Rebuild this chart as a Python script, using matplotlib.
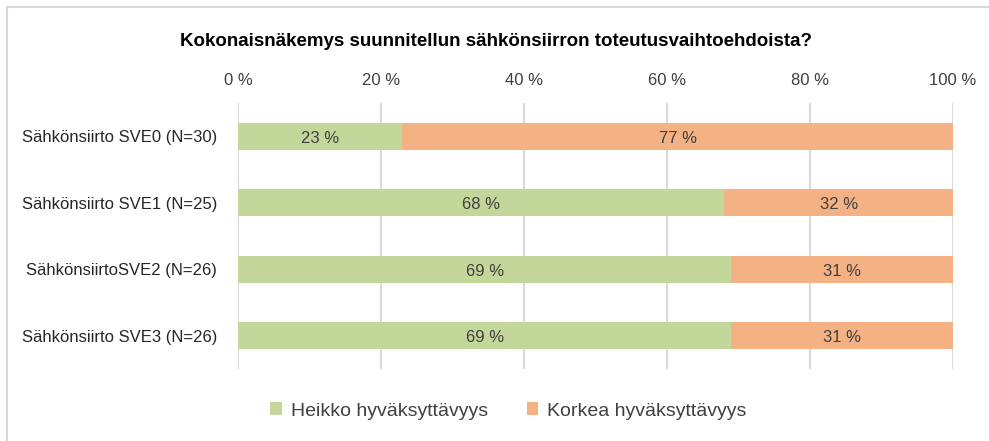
import numpy as np
import matplotlib
matplotlib.use("Agg")
import matplotlib.pyplot as plt
from matplotlib.patches import Rectangle

# data
categories = ["Sähkönsiirto SVE0 (N=30)", "Sähkönsiirto SVE1 (N=25)",
              "SähkönsiirtoSVE2 (N=26)", "Sähkönsiirto SVE3 (N=26)"]
heikko = [23, 68, 69, 69]
korkea = [77, 32, 31, 31]
series_names = ["Heikko hyväksyttävyys", "Korkea hyväksyttävyys"]
xticks = [0, 20, 40, 60, 80, 100]

green = "#C4D79B"
orange = "#F4B183"
txt = "#404040"

plt.rcParams["font.family"] = ["Liberation Sans", "DejaVu Sans"]

fig = plt.figure(figsize=(9.89, 4.41), dpi=100)
ax = fig.add_axes([238 / 989, 1 - 369 / 441, 715 / 989, 266 / 441])

# chart frame (cropped on right and bottom)
fig.patches.append(Rectangle((7 / 989, -0.1), 1.2, 1 - 7 / 441 + 0.1,
                             transform=fig.transFigure, fill=False,
                             edgecolor="#D9D9D9", linewidth=1.5))

y = np.arange(len(categories))
h = 0.41
ax.barh(y, heikko, h, color=green, label=series_names[0], zorder=2)
ax.barh(y, korkea, h, left=heikko, color=orange, label=series_names[1], zorder=2)

for i in range(len(categories)):
    ax.text(heikko[i] / 2, y[i] + 0.03, f"{heikko[i]} %", ha="center", va="center",
            fontsize=12, color=txt, zorder=3)
    ax.text(heikko[i] + korkea[i] / 2, y[i] + 0.03, f"{korkea[i]} %", ha="center",
            va="center", fontsize=12, color=txt, zorder=3)

ax.set_xlim(0, 100)
ax.set_ylim(len(categories) - 0.5, -0.5)
ax.set_xticks(xticks)
ax.set_xticklabels([f"{v} %" for v in xticks], fontsize=12, color=txt)
ax.xaxis.tick_top()
ax.tick_params(axis="x", length=0, pad=11)
ax.set_yticks(y)
ax.set_yticklabels(categories, fontsize=12, color="#262626")
ax.tick_params(axis="y", length=0, pad=15)
ax.grid(axis="x", color="#D9D9D9", linewidth=1.5, zorder=0)
for s in ax.spines.values():
    s.set_visible(False)

fig.text(0.502, 1 - 41 / 441, "Kokonaisnäkemys suunnitellun sähkönsiirron toteutusvaihtoehdoista?",
         ha="center", va="center", fontsize=13.5, fontweight="bold", color="black")

fig.legend(loc="center", bbox_to_anchor=(0.514, 1 - 411 / 441), ncol=2,
           frameon=False, fontsize=14, handlelength=0.6, handleheight=0.6,
           columnspacing=2.0, handletextpad=0.45, labelcolor=txt)

fig.savefig("out.png", dpi=100)
